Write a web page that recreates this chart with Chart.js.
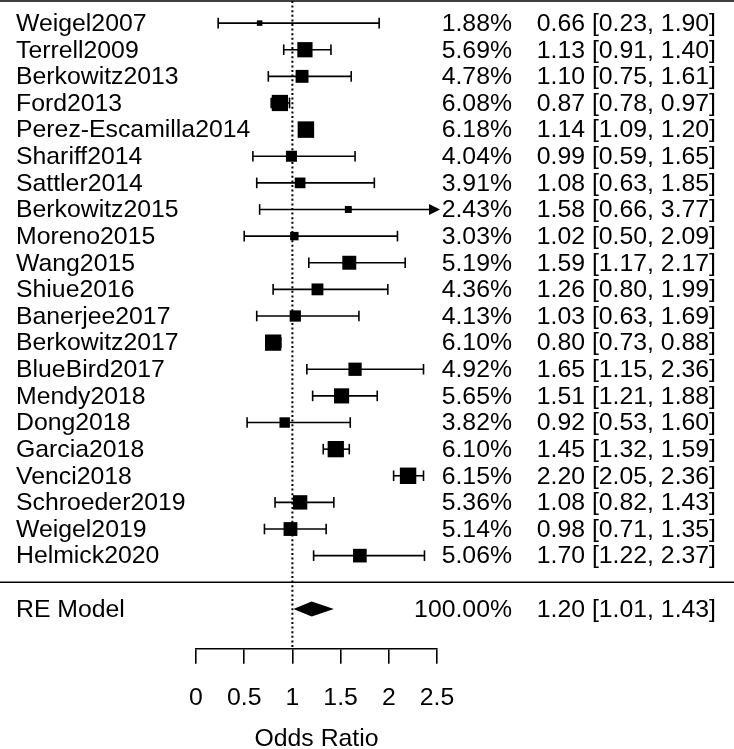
<!DOCTYPE html>
<html><head><meta charset="utf-8">
<script src="https://cdn.jsdelivr.net/npm/chart.js@4.4.1/dist/chart.umd.min.js"></script>
<style>html,body{margin:0;padding:0;background:#fff}#wrap{width:734px;height:749px;position:relative}</style>
</head><body><div id="wrap"><canvas id="c"></canvas></div>
<script>
const studies = ['Weigel2007','Terrell2009','Berkowitz2013','Ford2013','Perez-Escamilla2014','Shariff2014','Sattler2014','Berkowitz2015','Moreno2015','Wang2015','Shiue2016','Banerjee2017','Berkowitz2017','BlueBird2017','Mendy2018','Dong2018','Garcia2018','Venci2018','Schroeder2019','Weigel2019','Helmick2020'];
const weights = [1.88,5.69,4.78,6.08,6.18,4.04,3.91,2.43,3.03,5.19,4.36,4.13,6.10,4.92,5.65,3.82,6.10,6.15,5.36,5.14,5.06];
const estimates = [0.66,1.13,1.10,0.87,1.14,0.99,1.08,1.58,1.02,1.59,1.26,1.03,0.80,1.65,1.51,0.92,1.45,2.20,1.08,0.98,1.70];
const ciLower = [0.23,0.91,0.75,0.78,1.09,0.59,0.63,0.66,0.50,1.17,0.80,0.63,0.73,1.15,1.21,0.53,1.32,2.05,0.82,0.71,1.22];
const ciUpper = [1.90,1.40,1.61,0.97,1.20,1.65,1.85,3.77,2.09,2.17,1.99,1.69,0.88,2.36,1.88,1.60,1.59,2.36,1.43,1.35,2.37];
const summaryLabel = 'RE Model';
const summaryWeight = 100.00;
const summaryEstimate = 1.20;
const summaryLower = 1.01;
const summaryUpper = 1.43;
const xTickValues = [0, 0.5, 1, 1.5, 2, 2.5];
const xTickLabels = ['0', '0.5', '1', '1.5', '2', '2.5'];
const xAxisTitle = 'Odds Ratio';

const FONT = '"Liberation Sans", Arial, sans-serif';
const FS = 24.8;
const k = studies.length;
const sepRow = k;        // separator line row
const sumRow = k + 1;    // summary row
const wMin = Math.min(...weights), wMax = Math.max(...weights);
const sideOf = w => 11 * (0.5 + (w - wMin) / (wMax - wMin));

const fmt = v => v.toFixed(2);

const forestPlugin = {
  id: 'forest',
  beforeDatasetsDraw(chart) {
    const {ctx, scales: {x, y}, chartArea} = chart;
    const W = chart.width;
    ctx.save();
    ctx.strokeStyle = '#000';
    ctx.fillStyle = '#000';
    ctx.lineWidth = 1.6;
    // top line and separator line
    [y.min, sepRow].forEach(r => {
      const py = y.getPixelForValue(r);
      ctx.beginPath(); ctx.moveTo(0, py); ctx.lineTo(W, py); ctx.stroke();
    });
    // reference line at OR = 1
    ctx.lineWidth = 2;
    ctx.setLineDash([2, 2.6]);
    ctx.beginPath();
    ctx.moveTo(x.getPixelForValue(1), chartArea.top);
    ctx.lineTo(x.getPixelForValue(1), chartArea.bottom);
    ctx.stroke();
    ctx.setLineDash([]);
    // confidence intervals
    ctx.lineWidth = 1.6;
    const xMax = x.max;
    for (let i = 0; i < k; i++) {
      const py = y.getPixelForValue(i);
      const pl = x.getPixelForValue(Math.max(ciLower[i], x.min));
      const clipped = ciUpper[i] > xMax;
      const pr = x.getPixelForValue(Math.min(ciUpper[i], xMax));
      ctx.beginPath(); ctx.moveTo(pl, py); ctx.lineTo(clipped ? pr - 4 : pr, py); ctx.stroke();
      ctx.beginPath(); ctx.moveTo(pl, py - 5.3); ctx.lineTo(pl, py + 5.3); ctx.stroke();
      if (clipped) {
        ctx.beginPath();
        ctx.moveTo(pr + 3, py);
        ctx.lineTo(pr - 8, py - 5.5);
        ctx.lineTo(pr - 8, py + 5.5);
        ctx.closePath(); ctx.fill();
      } else {
        ctx.beginPath(); ctx.moveTo(pr, py - 5.3); ctx.lineTo(pr, py + 5.3); ctx.stroke();
      }
    }
    ctx.restore();
  },
  afterDatasetsDraw(chart) {
    const {ctx, scales: {x, y}} = chart;
    ctx.save();
    ctx.fillStyle = '#000';
    // summary diamond
    const sy = y.getPixelForValue(sumRow);
    ctx.beginPath();
    ctx.moveTo(x.getPixelForValue(summaryLower), sy);
    ctx.lineTo(x.getPixelForValue(summaryEstimate), sy - 7.5);
    ctx.lineTo(x.getPixelForValue(summaryUpper), sy);
    ctx.lineTo(x.getPixelForValue(summaryEstimate), sy + 7.5);
    ctx.closePath(); ctx.fill();
    // text
    ctx.font = FS + 'px ' + FONT;
    ctx.textBaseline = 'middle';
    const rows = studies.map((s, i) => [i, s, weights[i], estimates[i], ciLower[i], ciUpper[i]]);
    rows.push([sumRow, summaryLabel, summaryWeight, summaryEstimate, summaryLower, summaryUpper]);
    rows.forEach(([r, name, w, e, lo, hi]) => {
      const py = y.getPixelForValue(r) + 1;
      ctx.textAlign = 'left';
      ctx.fillText(name, 16, py);
      ctx.textAlign = 'right';
      ctx.fillText(fmt(w) + '%', 512, py);
      ctx.fillText(fmt(e) + ' [' + fmt(lo) + ', ' + fmt(hi) + ']', 716, py);
    });
    ctx.restore();
  }
};

new Chart(document.getElementById('c'), {
  type: 'scatter',
  data: {
    datasets: [{
      data: estimates.map((e, i) => ({x: e, y: i})),
      pointStyle: 'rect',
      pointRadius: c => sideOf(weights[c.dataIndex]) / Math.SQRT2,
      backgroundColor: '#000',
      borderWidth: 0,
      clip: false
    }]
  },
  options: {
    responsive: true,
    maintainAspectRatio: false,
    animation: false,
    events: [],
    layout: {autoPadding: false, padding: {left: 196, right: 297, top: 1, bottom: 0}},
    plugins: {legend: {display: false}, tooltip: {enabled: false}},
    scales: {
      x: {
        type: 'linear', min: 0, max: 2.5, position: 'bottom',
        afterBuildTicks: s => { s.ticks = xTickValues.map(v => ({value: v})); },
        ticks: {
          color: '#000', padding: 19, maxRotation: 0, autoSkip: false,
          font: {family: FONT, size: FS, lineHeight: 1.2},
          callback: (v, i) => xTickLabels[i]
        },
        grid: {drawOnChartArea: false, drawTicks: true, tickLength: 15, color: '#000', lineWidth: 1.6},
        border: {display: true, color: '#000', width: 1.6},
        title: {display: true, text: xAxisTitle, color: '#000',
          font: {family: FONT, size: FS, lineHeight: 0.5}, padding: {top: 1, bottom: 4}}
      },
      y: {
        type: 'linear', display: false, reverse: true, min: -0.83, max: 23.5
      }
    }
  },
  plugins: [forestPlugin]
});
</script></body></html>
